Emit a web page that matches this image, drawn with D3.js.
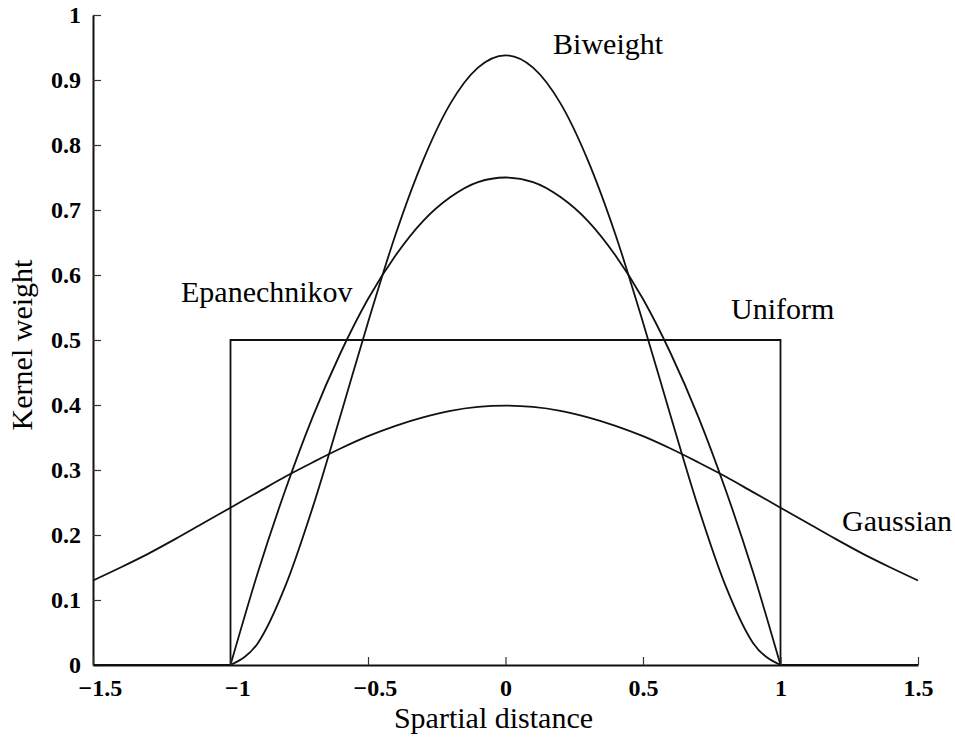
<!DOCTYPE html>
<meta charset="utf-8">
<style>
  body { margin: 0; background: #fff; }
  svg text { font-family: "Liberation Serif", "Times New Roman", serif; fill: #000; }
</style>
<body>
<svg width="955" height="738"></svg>
<script src="https://cdnjs.cloudflare.com/ajax/libs/d3/7.8.5/d3.min.js"></script>
<script>

// sample positions along the spatial distance axis
var xs = [-1.5,-1.4,-1.3,-1.2,-1.1,-1.0,-0.9,-0.8,-0.7,-0.6,-0.5,-0.4,-0.3,-0.2,-0.1,0,
          0.1,0.2,0.3,0.4,0.5,0.6,0.7,0.8,0.9,1.0,1.1,1.2,1.3,1.4,1.5];
var gaussian = [0.130,0.150,0.171,0.194,0.218,0.242,0.266,0.290,0.312,0.333,0.352,0.368,0.381,0.391,0.397,0.399,
                0.397,0.391,0.381,0.368,0.352,0.333,0.312,0.290,0.266,0.242,0.218,0.194,0.171,0.150,0.130];

var xsInner = [-1.0,-0.9,-0.8,-0.7,-0.6,-0.5,-0.4,-0.3,-0.2,-0.1,0,0.1,0.2,0.3,0.4,0.5,0.6,0.7,0.8,0.9,1.0];
var epanechnikov = [0,0.143,0.270,0.383,0.480,0.563,0.630,0.683,0.720,0.743,0.750,
                    0.743,0.720,0.683,0.630,0.563,0.480,0.383,0.270,0.143,0];
var biweight = [0,0.034,0.122,0.244,0.384,0.527,0.662,0.776,0.864,0.919,0.938,
                0.919,0.864,0.776,0.662,0.527,0.384,0.244,0.122,0.034,0];

var uniformX = [-1.5,-1,-1,1,1,1.5];
var uniformY = [0,0,0.5,0.5,0,0];

var xTicks = [-1.5,-1,-0.5,0,0.5,1,1.5];
var xTickLabels = ["\u22121.5","\u22121","\u22120.5","0","0.5","1","1.5"];
var yTicks = [0,0.1,0.2,0.3,0.4,0.5,0.6,0.7,0.8,0.9,1];
var yTickLabels = ["0","0.1","0.2","0.3","0.4","0.5","0.6","0.7","0.8","0.9","1"];

var labelNames = ["Biweight","Epanechnikov","Uniform","Gaussian"];
var labelX = [0.173,-1.18,0.82,1.224];
var labelY = [0.94,0.558,0.532,0.206];

var margin = {top: 15, right: 37, bottom: 73, left: 93},
    width = 955 - margin.left - margin.right,
    height = 738 - margin.top - margin.bottom;

var svg = d3.select('svg');
var g = svg.append('g').attr('transform', 'translate(' + margin.left + ',' + margin.top + ')');

var x = d3.scaleLinear().domain([-1.5, 1.5]).range([0, width]);
var y = d3.scaleLinear().domain([0, 1]).range([height, 0]);

var line = d3.line().x(d => x(d[0])).y(d => y(d[1])).curve(d3.curveMonotoneX);
var straight = d3.line().x(d => x(d[0])).y(d => y(d[1]));

function curve(cls, data, gen) {
  g.append('path')
    .datum(data)
    .attr('class', cls)
    .attr('fill', 'none')
    .attr('stroke', '#111')
    .attr('stroke-width', 1.8)
    .attr('stroke-linejoin', 'miter')
    .attr('d', gen);
}

curve('gaussian', xs.map((v, i) => [v, gaussian[i]]), line);
curve('epan', xsInner.map((v, i) => [v, epanechnikov[i]]), line);
curve('biweight', xsInner.map((v, i) => [v, biweight[i]]), line);
curve('uniform', uniformX.map((v, i) => [v, uniformY[i]]), straight);

// axes: ticks point inward
var yAxis = d3.axisLeft(y).tickValues(yTicks).tickFormat((d, i) => yTickLabels[i])
  .tickSizeInner(-8).tickSizeOuter(0).tickPadding(12);
var xAxis = d3.axisBottom(x).tickValues(xTicks).tickFormat((d, i) => xTickLabels[i])
  .tickSizeInner(-8).tickSizeOuter(0).tickPadding(14);

var gy = g.append('g').call(yAxis);
var gx = g.append('g').attr('transform', 'translate(0,' + height + ')').call(xAxis);

[gx, gy].forEach(function(a) {
  a.select('.domain').attr('stroke', '#111').attr('stroke-width', 2);
  a.selectAll('.tick line').attr('stroke', '#333').attr('stroke-width', 1.2);
  a.selectAll('.tick text')
    .style('font-family', '"Liberation Serif", "Times New Roman", serif')
    .style('font-size', '24px')
    .style('font-weight', 'bold')
    .attr('fill', '#000');
});

// keep the number part centred on the tick, minus sign hangs to the left
var probe = svg.append('text').style('font-size', '24px').style('font-weight', 'bold').text('\u2212');
var minusW = probe.node().getComputedTextLength();
probe.remove();
gx.selectAll('.tick text').attr('dx', d => d < 0 ? minusW / 2 : 0);

// curve names
g.selectAll('.curve-label')
  .data(labelNames)
  .enter()
  .append('text')
  .attr('class', 'curve-label')
  .attr('x', (d, i) => x(labelX[i]))
  .attr('y', (d, i) => y(labelY[i]))
  .style('font-size', '30px')
  .text(d => d);

// axis titles
g.append('text')
  .attr('x', width / 2 - 12)
  .attr('y', height + 63)
  .attr('text-anchor', 'middle')
  .style('font-size', '30px')
  .text('Spartial distance');

g.append('text')
  .attr('transform', 'translate(' + (32 - margin.left) + ',' + (height / 2 + 5) + ') rotate(-90)')
  .attr('text-anchor', 'middle')
  .style('font-size', '30px')
  .text('Kernel weight');

</script>
</body>
